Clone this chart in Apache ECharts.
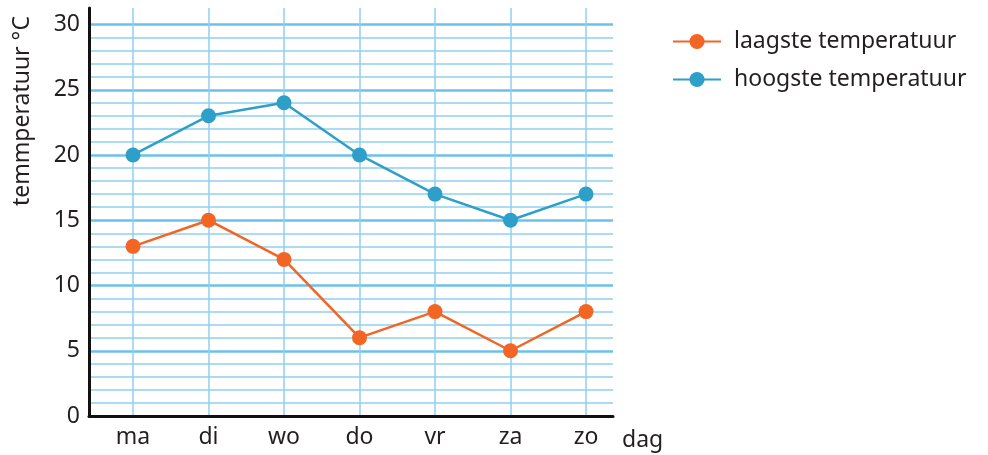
<!DOCTYPE html>
<html>
<head>
<meta charset="utf-8">
<script src="https://cdn.jsdelivr.net/npm/echarts@6/dist/echarts.min.js"></script>
<style>html,body{margin:0;padding:0;background:#fff;}#c{width:988px;height:455px;}</style>
</head>
<body>
<div id="c"></div>
<script>
const days = ['ma', 'di', 'wo', 'do', 'vr', 'za', 'zo'];
const laagste = [13, 15, 12, 6, 8, 5, 8];
const hoogste = [20, 23, 24, 20, 17, 15, 17];
const seriesNames = ['laagste temperatuur', 'hoogste temperatuur'];
const yTitle = 'temmperatuur °C';
const xTitle = 'dag';

const FONT = '"Noto Sans", Lato, sans-serif';
const FS = 23;
const TXT = '#231f20';
const ORANGE = '#f26524';
const BLUE = '#2e9fc8';

const chart = echarts.init(document.getElementById('c'), null, {renderer: 'canvas'});
chart.setOption({
  animation: false,
  backgroundColor: '#fff',
  textStyle: {fontFamily: FONT},
  grid: [
    {left: 89, right: 375, top: 24.5, bottom: 39, outerBoundsMode: 'none', containLabel: false},
    {left: 133, right: 402, top: 8, bottom: 39, outerBoundsMode: 'none', containLabel: false}
  ],
  legend: {
    orient: 'vertical', left: 667, top: 25, itemWidth: 48, itemHeight: 19, itemGap: 15,
    textStyle: {fontSize: FS, color: TXT, fontFamily: FONT, padding: [0, 0, 0, 8]},
    data: seriesNames
  },
  graphic: [{
    type: 'text', x: 22, y: 111, rotation: Math.PI / 2,
    style: {text: yTitle, font: FS + 'px ' + FONT, fill: TXT, textAlign: 'center', textVerticalAlign: 'middle'}
  }],
  xAxis: [
    {gridIndex: 0, type: 'value', min: 0, max: 1,
     axisLine: {show: true, onZero: false, lineStyle: {color: '#111', width: 3}},
     axisTick: {show: false}, axisLabel: {show: false}, splitLine: {show: false}},
    {gridIndex: 1, type: 'category', data: days, boundaryGap: false,
     axisLine: {show: false}, axisTick: {show: false},
     axisLabel: {fontSize: FS, color: TXT, margin: 10, fontFamily: FONT},
     splitLine: {show: true, lineStyle: {color: '#8ed0f0', width: 1.5}},
     name: xTitle, nameLocation: 'end', nameGap: 36,
     nameTextStyle: {fontSize: FS, color: TXT, fontFamily: FONT, verticalAlign: 'top', padding: [13, 0, 0, 0]}}
  ],
  yAxis: [
    {gridIndex: 0, type: 'value', min: 0, max: 30, interval: 5,
     axisLine: {show: false}, axisTick: {show: false},
     axisLabel: {fontSize: FS, color: TXT, margin: 9, fontFamily: FONT},
     splitLine: {show: true, lineStyle: {color: '#6cc1ea', width: 2.5}},
     minorTick: {show: false, splitNumber: 5},
     minorSplitLine: {show: true, lineStyle: {color: '#8fd1f0', width: 1.5}}},
    {gridIndex: 1, type: 'value', min: 0, max: 31.26, position: 'left', offset: 44,
     axisLine: {show: true, onZero: false, lineStyle: {color: '#111', width: 3}},
     axisTick: {show: false}, axisLabel: {show: false}, splitLine: {show: false}}
  ],
  series: [
    {name: seriesNames[0], type: 'line', xAxisIndex: 1, yAxisIndex: 1, data: laagste,
     symbol: 'circle', symbolSize: 15, itemStyle: {color: ORANGE},
     lineStyle: {color: ORANGE, width: 2.5}, z: 5},
    {name: seriesNames[1], type: 'line', xAxisIndex: 1, yAxisIndex: 1, data: hoogste,
     symbol: 'circle', symbolSize: 15, itemStyle: {color: BLUE},
     lineStyle: {color: BLUE, width: 2.5}, z: 5}
  ]
});
</script>
</body>
</html>
